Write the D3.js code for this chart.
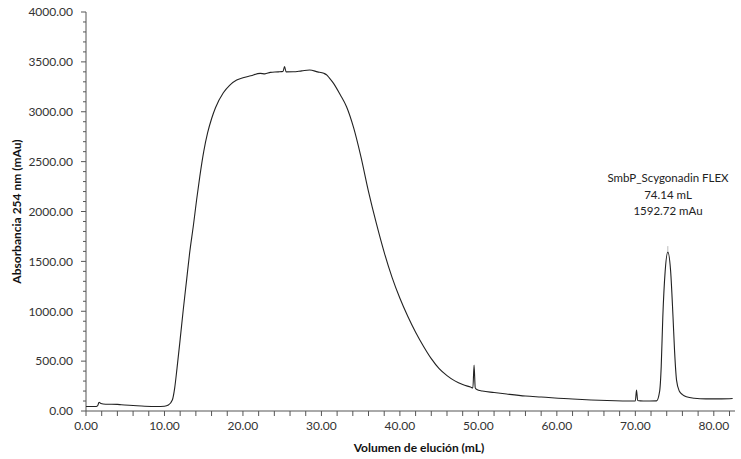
<!DOCTYPE html>
<html>
<head>
<meta charset="utf-8">
<script src="https://cdn.jsdelivr.net/npm/d3@7"></script>
<style>
  html, body { margin: 0; padding: 0; background: #fff; }
  svg { display: block; }
  text { font-family: Lato, "Open Sans", sans-serif; }
</style>
</head>
<body>
<svg id="chart" width="741" height="459"></svg>
<script>
// ---- Data ----
const volume = [
  0, 1.3, 1.5, 1.66, 1.9, 2.5, 4, 4.5, 6, 7.5, 9, 10, 10.5, 11.0, 11.3, 11.6,
  12.0, 12.4, 12.8, 13.2, 13.7, 14.1, 14.5, 15.0, 15.5, 16.0, 16.5, 17.5, 18.3,
  19.2, 20, 21, 22.2, 22.8, 23.5, 24.5, 25.1, 25.3, 25.5, 26.4, 27.5, 28.5,
  29.5, 30.3, 30.7, 31, 31.5, 32.4, 33.2, 34.1, 35, 36, 37, 38, 39, 40, 41, 42,
  43, 44, 45, 46, 47, 48, 49, 49.3, 49.45, 49.6, 49.8, 50.5, 52, 53.6, 56, 58,
  62, 66.4, 70, 70.15, 70.3, 71, 72.7, 73.1, 73.3, 73.5, 73.8, 74.14, 74.5,
  74.8, 75.0, 75.25, 75.6, 76, 76.5, 77.5, 79, 81, 82.4
];
const absorbance = [
  45, 45, 55, 88, 75, 68, 66, 62, 55, 48, 45, 48, 60, 110, 230, 430,
  720, 1020, 1300, 1580, 1870, 2120, 2350, 2600, 2790, 2930, 3040, 3190, 3265,
  3318, 3340, 3360, 3385, 3380, 3395, 3400, 3405, 3452, 3400, 3401, 3410, 3418,
  3400, 3385, 3368, 3340, 3290, 3170, 3050, 2840, 2560, 2200, 1880, 1590, 1340, 1130, 950, 790,
  650, 525, 425, 355, 302, 265, 240, 232, 460, 232, 215, 200, 185, 170, 150, 140,
  120, 105, 100, 210, 105, 100, 102, 200, 450, 940, 1400, 1592.72, 1400,
  945, 600, 310, 200, 165, 143, 128, 122, 122, 125
];
const xTicks = [0, 10, 20, 30, 40, 50, 60, 70, 80];
const yTicks = [0, 500, 1000, 1500, 2000, 2500, 3000, 3500, 4000];
const xMinorTicks = d3.range(0, 84, 2).filter(v => v % 10 !== 0);
const yMinorTicks = d3.range(0, 4001, 100).filter(v => v % 500 !== 0);
const peakLabel = ["SmbP_Scygonadin FLEX", "74.14 mL", "1592.72 mAu"];
const peak = { x: 74.14, y: 1592.72 };
const xTitle = "Volumen de elución (mL)";
const yTitle = "Absorbancia 254 nm (mAu)";

// ---- Chart ----
const svg = d3.select("#chart");
const x = d3.scaleLinear().domain([0, 82.7]).range([86, 735]);
const y = d3.scaleLinear().domain([0, 4000]).range([411, 12]);
const axisColor = "#555";
const labelColor = "#333";

// X axis
const gx = svg.append("g").attr("transform", `translate(0,${y(0)})`);
gx.append("line").attr("x1", x(0)).attr("x2", x(82.7)).attr("stroke", axisColor);
gx.selectAll("line.minor").data(xMinorTicks).enter().append("line")
  .attr("x1", d => x(d)).attr("x2", d => x(d)).attr("y1", 0).attr("y2", 5)
  .attr("stroke", axisColor);
gx.selectAll("line.major").data(xTicks).enter().append("line")
  .attr("x1", d => x(d)).attr("x2", d => x(d)).attr("y1", 0).attr("y2", 5)
  .attr("stroke", axisColor);
gx.selectAll("text").data(xTicks).enter().append("text")
  .attr("x", d => x(d)).attr("y", 19).attr("text-anchor", "middle")
  .attr("font-size", 12).attr("fill", labelColor)
  .text(d => d.toFixed(2));

// Y axis
const gy = svg.append("g").attr("transform", `translate(${x(0)},0)`);
gy.append("line").attr("y1", y(0)).attr("y2", y(4000)).attr("stroke", axisColor);
gy.selectAll("line.minor").data(yMinorTicks).enter().append("line")
  .attr("y1", d => y(d)).attr("y2", d => y(d)).attr("x1", -3).attr("x2", 0)
  .attr("stroke", axisColor);
gy.selectAll("line.major").data(yTicks).enter().append("line")
  .attr("y1", d => y(d)).attr("y2", d => y(d)).attr("x1", -5).attr("x2", 0)
  .attr("stroke", axisColor);
gy.selectAll("text").data(yTicks).enter().append("text")
  .attr("x", -13).attr("y", d => y(d) + 4.3).attr("text-anchor", "end")
  .attr("font-size", 12).attr("fill", labelColor)
  .text(d => d.toFixed(2));

// Titles
svg.append("text").attr("x", 419).attr("y", 452).attr("text-anchor", "middle")
  .attr("font-size", 12).attr("font-weight", "bold").attr("fill", "#111").text(xTitle);
svg.append("text").attr("transform", "translate(21,211.5) rotate(-90)")
  .attr("text-anchor", "middle").attr("font-size", 12).attr("font-weight", "bold")
  .attr("fill", "#111").text(yTitle);

// Data line
const data = volume.map((v, i) => ({ v, a: absorbance[i] }));
svg.append("path").datum(data)
  .attr("fill", "none").attr("stroke", "#222").attr("stroke-width", 1.1)
  .attr("d", d3.line().curve(d3.curveMonotoneX).x(d => x(d.v)).y(d => y(d.a)));

// Peak marker & label
svg.append("line").attr("x1", x(peak.x)).attr("x2", x(peak.x))
  .attr("y1", y(peak.y)).attr("y2", y(peak.y) - 6)
  .attr("stroke", "#bbb").attr("stroke-width", 1);
svg.append("g").selectAll("text").data(peakLabel).enter().append("text")
  .attr("x", 668).attr("y", (d, i) => 182 + i * 16.5).attr("text-anchor", "middle")
  .attr("font-size", 11.5).attr("fill", "#222").text(d => d);
</script>
</body>
</html>
